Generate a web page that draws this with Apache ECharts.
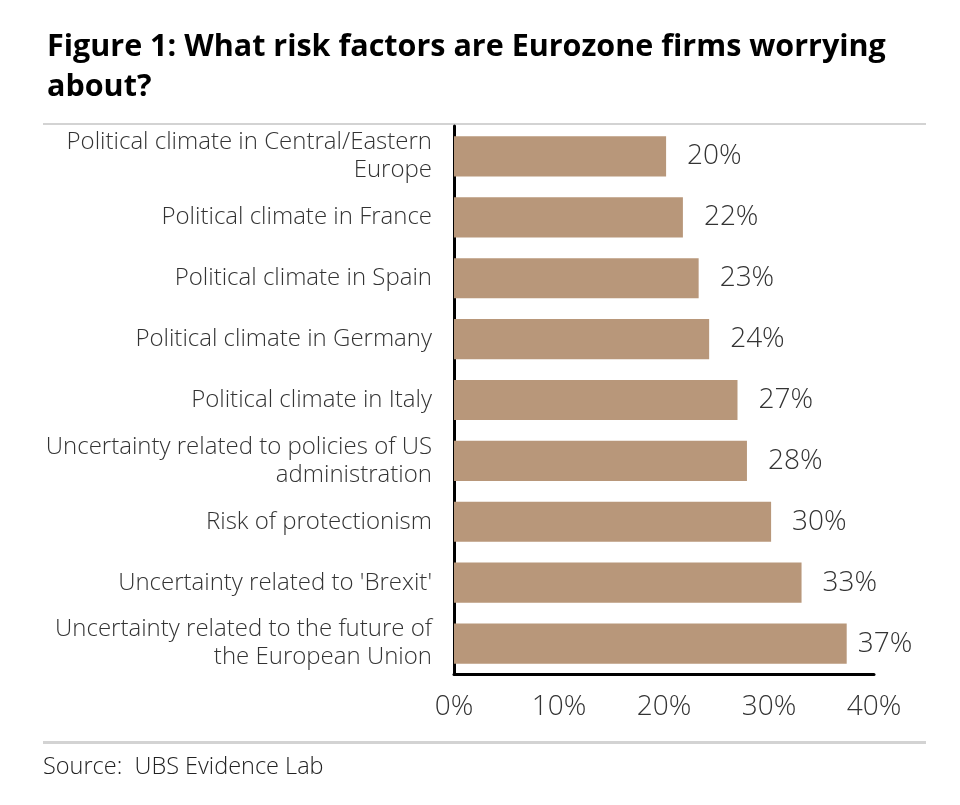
<!DOCTYPE html>
<html><head><meta charset="utf-8">
<script src="https://cdn.jsdelivr.net/npm/echarts@6/dist/echarts.min.js"></script>
<style>html,body{margin:0;padding:0;background:#fff}#c{width:960px;height:805px}</style>
</head><body><div id="c"></div>
<script>
var categories = [
  "Political climate in Central/Eastern\nEurope",
  "Political climate in France",
  "Political climate in Spain",
  "Political climate in Germany",
  "Political climate in Italy",
  "Uncertainty related to policies of US\nadministration",
  "Risk of protectionism",
  "Uncertainty related to 'Brexit'",
  "Uncertainty related to the future of\nthe European Union"
];
var values = [20.2, 21.8, 23.3, 24.3, 27.0, 27.9, 30.2, 33.1, 37.4];
var tickLabels = ["0%", "10%", "20%", "30%", "40%"];

var FONT = "'Open Sans', 'Noto Sans', sans-serif";
var seriesData = values.map(function (v, i) {
  return i === values.length - 1 ? { value: v, label: { distance: 11 } } : v;
});
var chart = echarts.init(document.getElementById('c'));
chart.setOption({
  animation: false,
  title: {
    text: "Figure 1: What risk factors are Eurozone firms worrying\nabout?",
    left: 42, top: 22,
    textStyle: { fontFamily: FONT, fontWeight: 'bold', fontSize: 30.5, color: '#000', lineHeight: 40 }
  },
  grid: { left: 454, right: 86, top: 126, bottom: 131, containLabel: false },
  xAxis: {
    type: 'value', min: 0, max: 40, interval: 10,
    axisLine: { show: true, lineStyle: { color: '#000', width: 3 } },
    axisTick: { show: false },
    splitLine: { show: false },
    axisLabel: {
      margin: 19, fontFamily: FONT, fontWeight: 300, fontSize: 28, color: '#333',
      formatter: function (v) { var i = Math.round(v / 10); return tickLabels[i] || ''; },
      showMaxLabel: true
    }
  },
  yAxis: {
    type: 'category', inverse: true, data: categories,
    axisLine: { show: true, lineStyle: { color: '#000', width: 3 } },
    axisTick: { show: false },
    axisLabel: { margin: 22, fontFamily: FONT, fontWeight: 300, fontSize: 24, color: '#333', lineHeight: 28, align: 'right' }
  },
  series: [{
    type: 'bar', data: seriesData, barCategoryGap: '34%',
    itemStyle: { color: '#b8977a' },
    label: {
      show: true, position: 'right', distance: 21,
      fontFamily: FONT, fontWeight: 300, fontSize: 28, color: '#333',
      formatter: function (p) { return Math.round(p.value) + '%'; }
    }
  }],
  graphic: [
    { type: 'rect', shape: { x: 43, y: 123, width: 883, height: 2 }, style: { fill: '#d3d3d3' } },
    { type: 'rect', shape: { x: 43, y: 741, width: 883, height: 3 }, style: { fill: '#d3d3d3' } },
    { type: 'text', x: 43, y: 767, style: { text: 'Source:  UBS Evidence Lab', font: '300 23.5px ' + FONT, fill: '#222', verticalAlign: 'middle' } }
  ]
});
</script></body></html>
